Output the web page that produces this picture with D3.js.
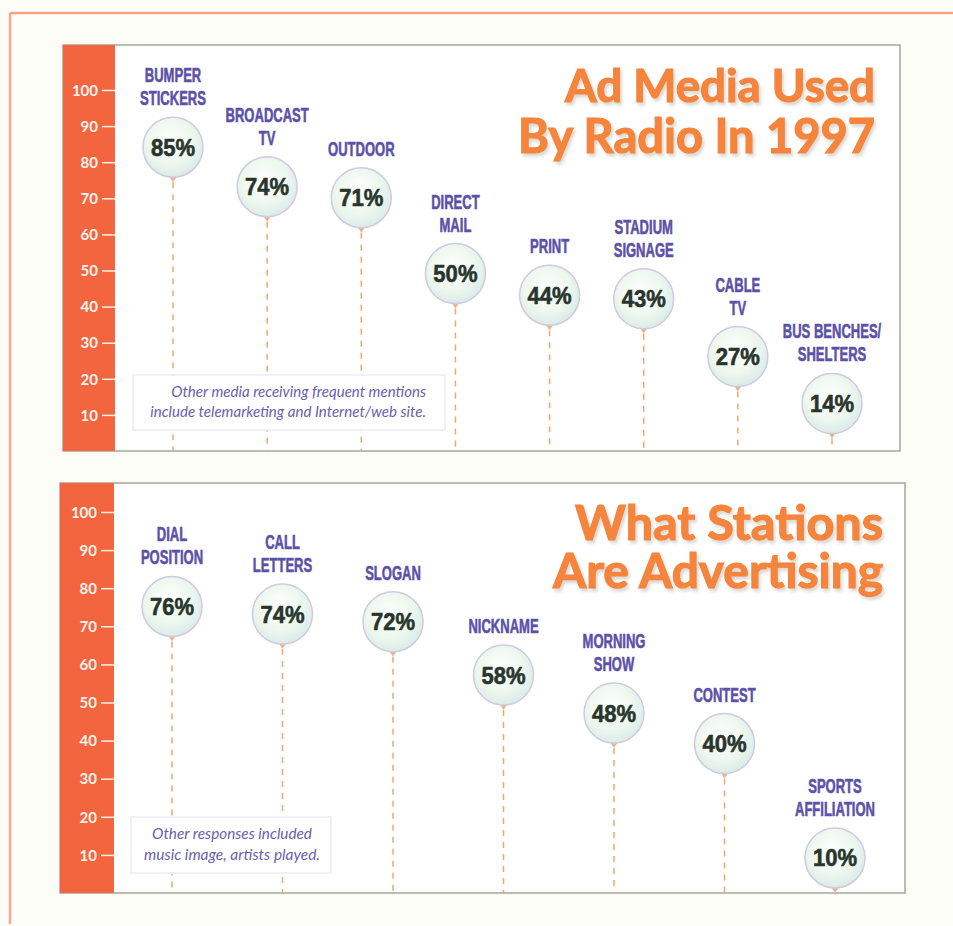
<!DOCTYPE html>
<meta charset="utf-8">
<style>
  body { margin: 0; background: #fdfdf7; }
  svg { display: block; }
</style>
<body>
<svg width="953" height="926"></svg>
<script src="https://d3js.org/d3.v7.min.js"></script>
<script>

// ---- data ----
var topCategories = ["BUMPER\nSTICKERS", "BROADCAST\nTV", "OUTDOOR", "DIRECT\nMAIL", "PRINT", "STADIUM\nSIGNAGE", "CABLE\nTV", "BUS BENCHES/\nSHELTERS"];
var topValues = [85, 74, 71, 50, 44, 43, 27, 14];
var topTitle = ["Ad Media Used", "By Radio In 1997"];
var topNote = ["Other media receiving frequent mentions", "include telemarketing and Internet/web site."];

var bottomCategories = ["DIAL\nPOSITION", "CALL\nLETTERS", "SLOGAN", "NICKNAME", "MORNING\nSHOW", "CONTEST", "SPORTS\nAFFILIATION"];
var bottomValues = [76, 74, 72, 58, 48, 40, 10];
var bottomTitle = ["What Stations", "Are Advertising"];
var bottomNote = ["Other responses included", "music image, artists played."];

var tickValues = [10, 20, 30, 40, 50, 60, 70, 80, 90, 100];

var svg = d3.select('svg');
var defs = svg.append('defs');

var grad = defs.append('radialGradient')
  .attr('id', 'bubble')
  .attr('cx', '45%').attr('cy', '40%').attr('r', '60%');
grad.append('stop').attr('offset', '0%').attr('stop-color', '#ffffff');
grad.append('stop').attr('offset', '60%').attr('stop-color', '#eef8ee');
grad.append('stop').attr('offset', '100%').attr('stop-color', '#dcebe8');

var shadow = defs.append('filter').attr('id', 'shadow')
  .attr('x', '-10%').attr('y', '-10%').attr('width', '130%').attr('height', '140%');
shadow.append('feDropShadow')
  .attr('dx', 2).attr('dy', 3).attr('stdDeviation', 1.5)
  .attr('flood-color', '#8a8070').attr('flood-opacity', 0.3);

// outer frame
svg.append('line').attr('x1', 10).attr('y1', 13).attr('x2', 953).attr('y2', 13)
  .attr('stroke', '#f6a47e').attr('stroke-width', 2.5);
svg.append('line').attr('x1', 10).attr('y1', 13).attr('x2', 10).attr('y2', 924)
  .attr('stroke', '#f9a790').attr('stroke-width', 2.5);

// scale a text so it spans the given width
function fitText(sel, width) {
  sel.each(function() {
    var fs = parseFloat(d3.select(this).attr('font-size'));
    var w = this.getComputedTextLength();
    d3.select(this).attr('font-size', fs * width / w);
  });
}

function drawPanel(p) {
  var g = svg.append('g');

  var y = d3.scaleLinear().domain([0, 100]).range([p.bottom, p.y100]);
  var x = d3.scalePoint().domain(p.categories).range(p.xRange);

  // white plot area
  g.append('rect')
    .attr('x', p.left).attr('y', p.top)
    .attr('width', p.right - p.left).attr('height', p.bottom - p.top)
    .attr('fill', '#ffffff')
    .attr('stroke', '#a5a89f').attr('stroke-width', 1.5);

  // red strip
  g.append('rect')
    .attr('x', p.left).attr('y', p.top)
    .attr('width', p.strip - p.left).attr('height', p.bottom - p.top)
    .attr('fill', '#f3653e');

  var axis = g.append('g')
    .attr('transform', 'translate(' + p.strip + ',0)')
    .call(d3.axisLeft(y).tickValues(tickValues).tickSize(13).tickPadding(4));
  axis.select('.domain').remove();
  axis.selectAll('line').attr('stroke', '#fff1e8').attr('stroke-width', 1.5);
  axis.selectAll('text')
    .attr('fill', '#fff4ee')
    .attr('font-family', 'Lato, "Liberation Sans", sans-serif')
    .attr('font-weight', 'bold')
    .attr('font-size', 15)
    .attr('dy', '0.35em');

  var r = 30;
  var items = p.categories.map(function(c, i) { return { cat: c, val: p.values[i] }; });

  // dashed stems
  g.selectAll('.stem').data(items).enter().append('line')
    .attr('x1', function(d) { return x(d.cat); })
    .attr('x2', function(d) { return x(d.cat); })
    .attr('y1', function(d) { return y(d.val) + 3 + r + 5; })
    .attr('y2', p.bottom)
    .attr('stroke', '#f2a66a').attr('stroke-width', 1.5)
    .attr('stroke-dasharray', '6,6');

  // note box
  var nb = p.noteBox;
  g.append('rect')
    .attr('x', nb[0]).attr('y', nb[1]).attr('width', nb[2]).attr('height', nb[3])
    .attr('fill', '#ffffff').attr('stroke', '#ecebf3').attr('stroke-width', 1.5);
  g.selectAll('.note').data(p.note).enter().append('text')
    .attr('x', p.noteX)
    .attr('y', function(d, i) { return p.noteY[i]; })
    .attr('text-anchor', p.noteAnchor)
    .attr('font-family', 'Lato, "Open Sans", sans-serif')
    .attr('font-style', 'italic')
    .attr('font-size', 13)
    .attr('fill', '#6a5fae')
    .text(function(d) { return d; })
    .each(function(d, i) { fitText(d3.select(this), p.noteW[i]); });

  // bubbles
  var b = g.selectAll('.bubble').data(items).enter().append('g')
    .attr('transform', function(d) { return 'translate(' + x(d.cat) + ',' + (y(d.val) + 3) + ')'; });
  b.append('path')
    .attr('d', 'M-4,' + (r - 1) + 'L0,' + (r + 5) + 'L4,' + (r - 1) + 'Z')
    .attr('fill', '#e9b48c');
  b.append('circle')
    .attr('r', r)
    .attr('fill', 'url(#bubble)')
    .attr('stroke', '#cfcbe0').attr('stroke-width', 1.5);
  b.append('text')
    .attr('transform', 'translate(0,8.5) scale(0.92,1)')
    .attr('text-anchor', 'middle')
    .attr('font-family', '"Liberation Sans", Arial, sans-serif')
    .attr('font-weight', 'bold')
    .attr('font-size', 24)
    .attr('fill', '#28352d')
    .attr('stroke', '#28352d').attr('stroke-width', 0.6)
    .text(function(d) { return d.val + '%'; });

  // category labels
  var lab = b.append('text')
    .attr('transform', function(d) { return 'translate(0,' + (-r - 12) + ') scale(0.62,1)'; })
    .attr('text-anchor', 'middle')
    .attr('font-family', '"Liberation Sans", Arial, sans-serif')
    .attr('font-weight', 'bold')
    .attr('font-size', 21)
    .attr('fill', '#5a51a8')
    .attr('stroke', '#5a51a8').attr('stroke-width', 0.6);
  lab.each(function(d) {
    var lines = d.cat.split('\n');
    var t = d3.select(this);
    lines.forEach(function(l, i) {
      t.append('tspan').attr('x', 0)
        .attr('y', (i - lines.length + 1) * 23)
        .text(l);
    });
  });

  // title
  g.selectAll('.title').data(p.title).enter().append('text')
    .attr('x', p.titleX)
    .attr('y', function(d, i) { return p.titleY[i]; })
    .attr('text-anchor', 'end')
    .attr('font-family', 'Lato, "Open Sans", sans-serif')
    .attr('font-weight', 'bold')
    .attr('font-size', 46)
    .attr('fill', '#f5843c')
    .attr('stroke', '#f5843c').attr('stroke-width', 1.2)
    .attr('filter', 'url(#shadow)')
    .text(function(d) { return d; })
    .each(function(d, i) { fitText(d3.select(this), p.titleW[i]); });
}

drawPanel({
  categories: topCategories, values: topValues, title: topTitle, note: topNote,
  left: 63, strip: 115, top: 45, right: 900, bottom: 451, y100: 90,
  xRange: [173, 832],
  titleX: 875, titleY: [102, 153], titleW: [310, 357],
  noteBox: [133, 375, 312, 55], noteX: 426, noteY: [397, 417], noteAnchor: 'end', noteW: [255, 276]
});

drawPanel({
  categories: bottomCategories, values: bottomValues, title: bottomTitle, note: bottomNote,
  left: 60, strip: 114, top: 483, right: 905, bottom: 893, y100: 512,
  xRange: [172, 835],
  titleX: 883, titleY: [540, 588], titleW: [308, 330],
  noteBox: [131, 817, 200, 56], noteX: 232, noteY: [839, 860], noteAnchor: 'middle', noteW: [160, 176]
});

</script>
